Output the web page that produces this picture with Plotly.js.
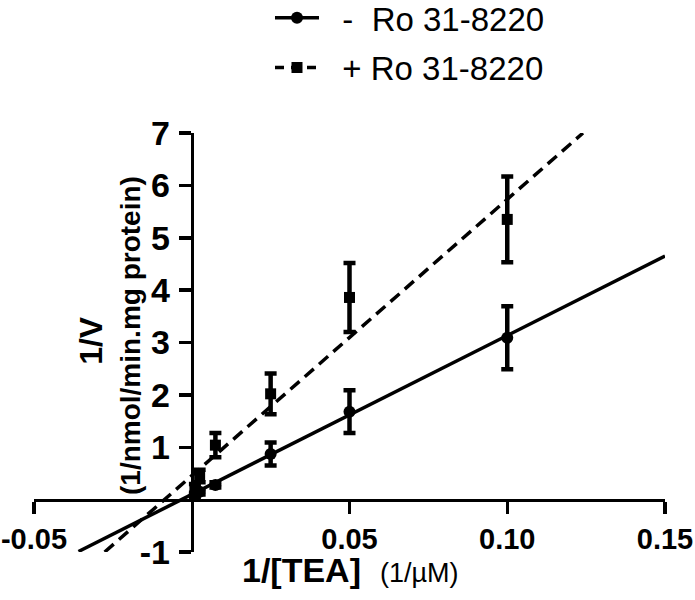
<!DOCTYPE html>
<html>
<head>
<meta charset="utf-8">
<script src="https://cdn.plot.ly/plotly-3.0.1.min.js"></script>
<style>html,body{margin:0;padding:0;background:#fff;}#chart{width:695px;height:600px;}</style>
</head>
<body>
<div id="chart"></div>
<script>
// Data
const invTEA = [0.001, 0.0025, 0.0075, 0.025, 0.05, 0.10];
const minusRoV = [0.08, 0.15, 0.28, 0.87, 1.68, 3.09];
const minusRoErr = [0.05, 0.05, 0.05, 0.22, 0.41, 0.60];
const plusRoV = [0.20, 0.45, 1.04, 2.02, 3.86, 5.35];
const plusRoErr = [0.10, 0.12, 0.23, 0.39, 0.66, 0.82];

// Regression lines (end points)
const minusFitX = [-0.0359, 0.15];
const minusFitY = [-0.99, 4.65];
const plusFitX = [-0.0276, 0.124];
const plusFitY = [-1.0, 7.0];

const legendNames = ['\u00a0\u00a0-  Ro 31-8220', '\u00a0\u00a0+ Ro 31-8220'];
const xTickVals = [-0.05, 0.05, 0.10, 0.15];
const xTickText = ['-0.05', '0.05', '0.10', '0.15'];
const yTickVals = [-1, 1, 2, 3, 4, 5, 6, 7];
const yTickText = ['-1', '1', '2', '3', '4', '5', '6', '7'];

const FONT = 'Liberation Sans, Arial, Helvetica, sans-serif';

const traces = [
  {x: minusFitX, y: minusFitY, mode: 'lines', line: {color: '#000', width: 3.5}, showlegend: false, hoverinfo: 'skip'},
  {x: plusFitX, y: plusFitY, mode: 'lines', line: {color: '#000', width: 3.5, dash: '12px,7px'}, showlegend: false, hoverinfo: 'skip'},
  {x: invTEA, y: minusRoV, mode: 'markers', marker: {symbol: 'circle', size: 12, color: '#000'},
   error_y: {type: 'data', array: minusRoErr, visible: true, color: '#000', thickness: 4.5, width: 6}, showlegend: false},
  {x: invTEA, y: plusRoV, mode: 'markers', marker: {symbol: 'square', size: 11, color: '#000'},
   error_y: {type: 'data', array: plusRoErr, visible: true, color: '#000', thickness: 4.5, width: 6}, showlegend: false},
  // legend entries
  {x: [null], y: [null], name: legendNames[0], legendgroup: 'a', mode: 'lines+markers',
   line: {color: '#000', width: 3.5}, marker: {symbol: 'circle', size: 12, color: '#000'}},
  {x: [null], y: [null], name: legendNames[1], legendgroup: 'b', mode: 'lines+markers',
   line: {color: '#000', width: 3.5, dash: '9px,7px'}, marker: {symbol: 'square', size: 11, color: '#000'}}
];

const layout = {
  width: 695, height: 600,
  margin: {l: 34, r: 30, t: 133, b: 48, autoexpand: false},
  paper_bgcolor: '#fff', plot_bgcolor: '#fff',
  font: {family: FONT, color: '#000'},
  showlegend: true,
  legend: {x: 0.374, y: 1.342, xanchor: 'left', yanchor: 'top', font: {family: FONT, size: 33, color: '#000'},
           itemwidth: 44, tracegroupgap: 4, traceorder: 'grouped', bgcolor: 'rgba(0,0,0,0)'},
  xaxis: {
    range: [-0.05, 0.15], anchor: 'free', position: 0.125,
    showgrid: false, zeroline: false, showline: true, linecolor: '#000', linewidth: 3.5,
    ticks: 'outside', ticklen: 12, tickwidth: 3.5, tickcolor: '#000',
    tickvals: xTickVals, ticktext: xTickText, ticklabelstandoff: 0, ticklabeloverflow: 'allow',
    tickfont: {family: FONT, size: 29, weight: 'bold', color: '#000'}
  },
  yaxis: {
    range: [-1, 7], anchor: 'free', position: 0.25,
    showgrid: false, zeroline: false, showline: true, linecolor: '#000', linewidth: 3.5,
    ticks: 'outside', ticklen: 12, tickwidth: 3.5, tickcolor: '#000',
    tickvals: yTickVals, ticktext: yTickText, ticklabelstandoff: 2, ticklabeloverflow: 'allow',
    tickfont: {family: FONT, size: 34, weight: 'bold', color: '#000'}
  },
  annotations: [
    {xref: 'paper', yref: 'paper', x: 0, y: 0.504, xshift: 57, xanchor: 'center', yanchor: 'middle',
     textangle: -90, showarrow: false, text: '<b>1/V</b>', font: {family: FONT, size: 32, color: '#000'}},
    {xref: 'paper', yref: 'paper', x: 0, y: 0.5155, xshift: 96, xanchor: 'center', yanchor: 'middle',
     textangle: -90, showarrow: false, text: '<b>(1/nmol/min.mg protein)</b>', font: {family: FONT, size: 28, color: '#000'}},
    {xref: 'paper', yref: 'paper', x: 0.5, y: -0.042, xanchor: 'center', yanchor: 'middle',
     showarrow: false, text: '<b>1/[TEA]</b>  <span style="font-size:27px">(1/µM)</span>', font: {family: FONT, size: 34, color: '#000'}}
  ]
};

Plotly.newPlot('chart', traces, layout, {staticPlot: true, displayModeBar: false});
</script>
</body>
</html>
